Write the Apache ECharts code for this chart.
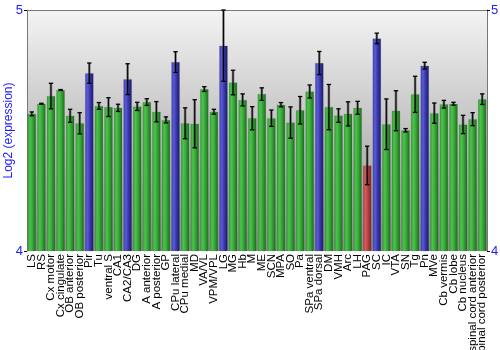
<!DOCTYPE html>
<html>
<head>
<meta charset="utf-8">
<script src="https://cdn.jsdelivr.net/npm/echarts@6/dist/echarts.min.js"></script>
<style>html,body{margin:0;padding:0;background:#fff;}#c{width:500px;height:350px;}</style>
</head>
<body>
<div id="c"></div>
<script>
const categories = ["LS","RS","Cx motor","Cx cingulate","OB anterior","OB posterior","Pir","Tu","ventral S","CA1","CA2/CA3","DG","A anterior","A posterior","GP","CPu lateral","CPu medial","MD","VA/VL","VPM/VPL","LG","MG","Hb","M","ME","SCN","MPA","SO","Pa","SPa ventral","SPa dorsal","DM","VMH","Arc","LH","PAG","SC","IC","VTA","SN","Tg","Pn","MVe","Cb vermis","Cb lobe","Cb nucleus","spinal cord anterior","spinal cord posterior"];
const values = [4.569,4.611,4.643,4.668,4.561,4.530,4.738,4.602,4.597,4.594,4.713,4.600,4.618,4.578,4.544,4.784,4.530,4.528,4.672,4.578,4.852,4.699,4.627,4.551,4.651,4.551,4.607,4.533,4.584,4.662,4.780,4.597,4.562,4.569,4.594,4.355,4.882,4.526,4.582,4.501,4.650,4.769,4.572,4.609,4.611,4.525,4.547,4.630];
const errors = [0.008,0.002,0.053,0.002,0.027,0.044,0.042,0.014,0.039,0.015,0.064,0.017,0.014,0.042,0.0125,0.043,0.064,0.100,0.010,0.010,0.148,0.051,0.025,0.048,0.026,0.034,0.009,0.065,0.057,0.027,0.048,0.094,0.028,0.050,0.027,0.080,0.022,0.105,0.083,0.007,0.075,0.014,0.042,0.016,0.006,0.038,0.027,0.022];
const groups = ["g","g","g","g","g","g","b","g","g","g","b","g","g","g","g","b","g","g","g","g","b","g","g","g","g","g","g","g","g","g","b","g","g","g","g","r","b","g","g","g","g","b","g","g","g","g","g","g"];
const yTicks = [4, 5];

const grad = (stops) => new echarts.graphic.LinearGradient(0,0,1,0, stops.map((c)=>({offset:c[0],color:c[1]})));
const fills = {
  g: grad([[0,'#2f9a2f'],[0.3,'#4cc34c'],[0.55,'#3aab3a'],[1,'#1a6a1a']]),
  b: grad([[0,'#3c3cb4'],[0.3,'#5a5ad6'],[0.55,'#3c3cb0'],[1,'#17176a']]),
  r: grad([[0,'#b03c3c'],[0.3,'#d65a5a'],[0.55,'#b84646'],[1,'#7a2020']])
};

const chart = echarts.init(document.getElementById('c'), null, {renderer:'canvas'});
chart.setOption({
  animation: false,
  grid: {left: 27, right: 13, top: 10, bottom: 99, show: true, borderWidth: 0,
    containLabel: false, outerBoundsMode: 'none',
    backgroundColor: new echarts.graphic.LinearGradient(0,0,0,1,[{offset:0,color:'#f4f4f4'},{offset:1,color:'#8e8e8e'}])},
  xAxis: {
    type: 'category', data: categories,
    axisLine: {show: false}, axisTick: {show: false},
    axisLabel: {rotate: 90, interval: 0, fontFamily: 'Liberation Sans, Arial', fontSize: 11.5, color: '#000', margin: 3}
  },
  yAxis: [
    {type: 'value', min: yTicks[0], max: yTicks[1], interval: 1, position: 'left',
     name: 'Log2 (expression)', nameLocation: 'middle', nameGap: 12, nameMoveOverlap: false,
     nameTextStyle: {color: '#1a1aff', fontFamily: 'Liberation Sans, Arial', fontSize: 12},
     axisLine: {show: true, lineStyle: {color: '#777'}},
     axisTick: {show: true, length: 3, lineStyle: {color: '#000'}},
     splitLine: {show: true, lineStyle: {color: '#777'}, showMinLine: false},
     axisLabel: {color: '#1a1aff', fontFamily: 'Liberation Sans, Arial', fontSize: 13, margin: 4}},
    {type: 'value', min: yTicks[0], max: yTicks[1], interval: 1, position: 'right',
     axisLine: {show: true, lineStyle: {color: '#777'}},
     axisTick: {show: true, length: 3, lineStyle: {color: '#000'}},
     splitLine: {show: false},
     axisLabel: {color: '#1a1aff', fontFamily: 'Liberation Sans, Arial', fontSize: 13, margin: 4}}
  ],
  series: [
    {type: 'bar', barCategoryGap: '12%',
     data: values.map((v,i)=>({value: v, itemStyle: {color: fills[groups[i]], borderColor: 'rgba(90,90,90,0.35)', borderWidth: 0.5}}))},
    {type: 'custom',
     data: values.map((v,i)=>[i, v - errors[i], v + errors[i]]),
     renderItem: function(params, api) {
       const x = api.value(0);
       const lo = api.coord([x, api.value(1)]);
       const hi = api.coord([x, api.value(2)]);
       const w = 2.2;
       return {type: 'group', children: [
         {type: 'line', shape: {x1: lo[0], y1: lo[1], x2: hi[0], y2: hi[1]}, style: {stroke: 'rgba(40,40,40,0.55)', lineWidth: 2.5}},
         {type: 'line', shape: {x1: lo[0], y1: lo[1], x2: hi[0], y2: hi[1]}, style: {stroke: '#000', lineWidth: 1}},
         {type: 'line', shape: {x1: hi[0]-w, y1: hi[1], x2: hi[0]+w, y2: hi[1]}, style: {stroke: '#000', lineWidth: 1.3}},
         {type: 'line', shape: {x1: lo[0]-w, y1: lo[1], x2: lo[0]+w, y2: lo[1]}, style: {stroke: '#000', lineWidth: 1.3}}
       ]};
     }, z: 5}
  ]
});
</script>
</body>
</html>
